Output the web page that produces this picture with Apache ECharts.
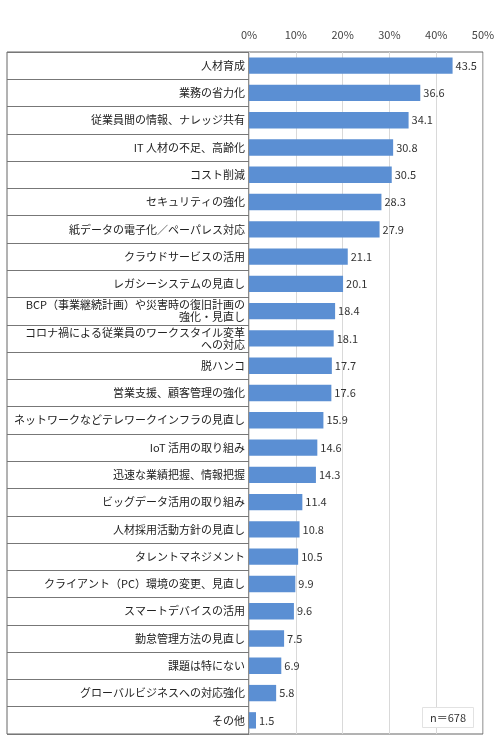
<!DOCTYPE html>
<html>
<head>
<meta charset="utf-8">
<script src="https://cdn.jsdelivr.net/npm/echarts@6/dist/echarts.min.js"></script>
<style>
  html, body { margin: 0; padding: 0; background: #fff; }
  #chart { width: 500px; height: 744px; }
</style>
</head>
<body>
<div id="chart"></div>
<script>
const categories = [
    '人材育成',
    '業務の省力化',
    '従業員間の情報、ナレッジ共有',
    'IT 人材の不足、高齢化',
    'コスト削減',
    'セキュリティの強化',
    '紙データの電子化／ペーパレス対応',
    'クラウドサービスの活用',
    'レガシーシステムの見直し',
    'BCP（事業継続計画）や災害時の復旧計画の\n強化・見直し',
    'コロナ禍による従業員のワークスタイル変革\nへの対応',
    '脱ハンコ',
    '営業支援、顧客管理の強化',
    'ネットワークなどテレワークインフラの見直し',
    'IoT 活用の取り組み',
    '迅速な業績把握、情報把握',
    'ビッグデータ活用の取り組み',
    '人材採用活動方針の見直し',
    'タレントマネジメント',
    'クライアント（PC）環境の変更、見直し',
    'スマートデバイスの活用',
    '勤怠管理方法の見直し',
    '課題は特にない',
    'グローバルビジネスへの対応強化',
    'その他'
]

const values = [43.5, 36.6, 34.1, 30.8, 30.5, 28.3, 27.9, 21.1, 20.1, 18.4, 18.1, 17.7, 17.6,
    15.9, 14.6, 14.3, 11.4, 10.8, 10.5, 9.9, 9.6, 7.5, 6.9, 5.8, 1.5]

const sampleNote = 'n＝678'

const font = '"Noto Sans CJK JP", "Noto Sans", sans-serif'

const echart = echarts.init(document.getElementById('chart'), null, { renderer: 'canvas' })

const option = {
    animation: false,
    backgroundColor: '#fff',
    textStyle: { fontFamily: font },
    title: {
        text: sampleNote,
        right: 26,
        bottom: 16,
        padding: [5, 8],
        backgroundColor: '#fff',
        borderColor: '#e2e2e2',
        borderWidth: 1,
        textStyle: { fontSize: 11, fontWeight: 'normal', color: '#333', fontFamily: font }
    },
    grid: [
        // label table on the left
        { left: 7, width: 242, top: 52, bottom: 10, show: true, borderColor: '#666', borderWidth: 1 },
        // plot area
        { left: 249, right: 17, top: 52, bottom: 10, show: true, borderColor: '#666', borderWidth: 1 }
    ],
    xAxis: [
        { gridIndex: 0, show: false, min: 0, max: 1 },
        {
            gridIndex: 1,
            type: 'value',
            position: 'top',
            min: 0,
            max: 50,
            interval: 10,
            axisLine: { show: false },
            axisTick: { show: false },
            axisLabel: { formatter: '{value}%', fontSize: 11, color: '#444', margin: 12 },
            splitLine: { lineStyle: { color: '#d9d9d9' } }
        }
    ],
    yAxis: [
        {
            gridIndex: 0,
            type: 'category',
            data: categories,
            inverse: true,
            axisLine: { show: false },
            axisTick: { show: false },
            axisLabel: { show: false },
            splitLine: { show: true, lineStyle: { color: '#777' } }
        },
        {
            gridIndex: 1,
            type: 'category',
            data: categories,
            inverse: true,
            axisLine: { show: false },
            axisTick: { show: false },
            axisLabel: { fontSize: 11, color: '#222', margin: 4, lineHeight: 12, align: 'right' }
        }
    ],
    series: [
        {
            type: 'bar',
            xAxisIndex: 1,
            yAxisIndex: 1,
            data: values,
            barWidth: '60%',
            itemStyle: { color: '#5b8fd3' },
            label: {
                show: true,
                position: 'right',
                distance: 3,
                fontSize: 11,
                color: '#333',
                formatter: p => p.value.toFixed(1)
            }
        }
    ]
}

echart.setOption(option)
</script>
</body>
</html>
